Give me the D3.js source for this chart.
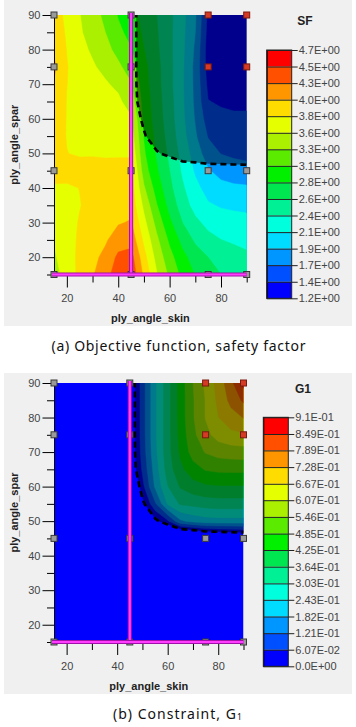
<!DOCTYPE html>
<html><head><meta charset="utf-8">
<script src="https://cdn.jsdelivr.net/npm/d3@7"></script>
<style>
body{margin:0;background:#fff;}
svg{display:block;font-family:"Liberation Sans",Arial,sans-serif;}
</style>
</head><body>
<svg id="c" width="356" height="727"></svg>
<script>
// ---------- data ----------
const xValues = [15,20,25,30,35,40,45,50,55,60,65,70,75,80,85,90];
const yValues = [90,85,80,75,70,65,60,55,50,45,40,35,30,25,20,15];

// Safety factor, rows from y=90 (top) to y=15 (bottom)
const sfGrid = [
 [3.86,3.72,3.54,3.40,3.24,3.05,2.93,2.75,2.60,2.42,2.20,1.93,1.38,1.25,1.22,1.22],
 [3.90,3.74,3.56,3.44,3.30,3.12,2.99,2.79,2.62,2.42,2.19,1.90,1.35,1.25,1.23,1.24],
 [3.96,3.76,3.60,3.50,3.38,3.22,3.08,2.84,2.64,2.42,2.18,1.86,1.32,1.27,1.26,1.27],
 [4.05,3.78,3.64,3.56,3.47,3.35,3.18,2.90,2.67,2.43,2.17,1.83,1.33,1.30,1.30,1.32],
 [3.98,3.77,3.68,3.62,3.56,3.48,3.32,2.93,2.68,2.43,2.16,1.84,1.38,1.36,1.35,1.35],
 [3.92,3.76,3.70,3.67,3.62,3.58,3.42,2.97,2.70,2.45,2.17,1.85,1.44,1.41,1.40,1.40],
 [3.88,3.76,3.72,3.70,3.67,3.65,3.56,3.00,2.72,2.47,2.18,1.88,1.55,1.48,1.46,1.46],
 [3.85,3.76,3.73,3.72,3.70,3.70,3.65,3.05,2.76,2.50,2.22,1.93,1.65,1.56,1.54,1.53],
 [3.84,3.77,3.75,3.75,3.74,3.74,3.74,3.10,2.80,2.55,2.28,2.02,1.78,1.66,1.62,1.60],
 [3.85,3.84,3.83,3.84,3.84,3.85,3.85,3.18,2.86,2.60,2.33,2.10,1.92,1.82,1.78,1.75],
 [3.74,3.74,3.77,3.82,3.85,3.90,3.88,3.33,2.96,2.66,2.40,2.20,2.04,1.97,1.94,1.93],
 [3.66,3.70,3.76,3.82,3.90,3.96,3.92,3.48,3.08,2.75,2.48,2.28,2.16,2.11,2.09,2.08],
 [3.60,3.70,3.78,3.84,3.92,3.98,4.02,3.60,3.22,2.88,2.60,2.42,2.30,2.25,2.22,2.20],
 [3.55,3.68,3.80,3.88,3.97,4.12,4.15,3.72,3.35,3.02,2.76,2.56,2.44,2.37,2.34,2.32],
 [3.50,3.66,3.82,3.94,4.06,4.28,4.32,3.85,3.45,3.15,2.90,2.72,2.60,2.50,2.44,2.40],
 [3.45,3.62,3.83,3.98,4.13,4.38,4.42,3.95,3.55,3.25,3.00,2.82,2.70,2.60,2.52,2.47]
];

// Constraint G1 (<= 0 feasible), rows from y=90 to y=15
const g1Grid = [
 [-0.3,-0.3,-0.3,-0.3,-0.3,-0.3,-0.06,0.09,0.23,0.34,0.45,0.545,0.62,0.69,0.77,0.87],
 [-0.3,-0.3,-0.3,-0.3,-0.3,-0.3,-0.06,0.09,0.23,0.34,0.45,0.54,0.61,0.68,0.745,0.80],
 [-0.3,-0.3,-0.3,-0.3,-0.3,-0.3,-0.06,0.09,0.23,0.34,0.45,0.54,0.61,0.665,0.705,0.73],
 [-0.3,-0.3,-0.3,-0.3,-0.3,-0.3,-0.06,0.09,0.23,0.34,0.445,0.53,0.59,0.63,0.65,0.66],
 [-0.3,-0.3,-0.3,-0.3,-0.3,-0.3,-0.06,0.085,0.225,0.34,0.435,0.51,0.55,0.57,0.577,0.58],
 [-0.3,-0.3,-0.3,-0.3,-0.3,-0.3,-0.065,0.07,0.21,0.33,0.41,0.46,0.49,0.498,0.5,0.5],
 [-0.3,-0.3,-0.3,-0.3,-0.3,-0.3,-0.127,0.04,0.19,0.30,0.37,0.40,0.415,0.42,0.42,0.42],
 [-0.3,-0.3,-0.3,-0.3,-0.3,-0.3,-0.15,-0.02,0.11,0.25,0.31,0.32,0.33,0.335,0.335,0.335],
 [-0.3,-0.3,-0.3,-0.3,-0.3,-0.3,-0.2,-0.12,-0.02,0.05,0.17,0.2,0.215,0.22,0.22,0.22],
 [-0.3,-0.3,-0.3,-0.3,-0.3,-0.3,-0.3,-0.25,-0.22,-0.2,-0.2,-0.185,-0.143,-0.135,-0.124,-0.113],
 [-0.35,-0.35,-0.35,-0.35,-0.35,-0.35,-0.35,-0.35,-0.35,-0.35,-0.35,-0.35,-0.35,-0.35,-0.35,-0.35],
 [-0.35,-0.35,-0.35,-0.35,-0.35,-0.35,-0.35,-0.35,-0.35,-0.35,-0.35,-0.35,-0.35,-0.35,-0.35,-0.35],
 [-0.35,-0.35,-0.35,-0.35,-0.35,-0.35,-0.35,-0.35,-0.35,-0.35,-0.35,-0.35,-0.35,-0.35,-0.35,-0.35],
 [-0.35,-0.35,-0.35,-0.35,-0.35,-0.35,-0.35,-0.35,-0.35,-0.35,-0.35,-0.35,-0.35,-0.35,-0.35,-0.35],
 [-0.35,-0.35,-0.35,-0.35,-0.35,-0.35,-0.35,-0.35,-0.35,-0.35,-0.35,-0.35,-0.35,-0.35,-0.35,-0.35],
 [-0.35,-0.35,-0.35,-0.35,-0.35,-0.35,-0.35,-0.35,-0.35,-0.35,-0.35,-0.35,-0.35,-0.35,-0.35,-0.35]
];

const sfLevels = [1.2,1.433,1.667,1.9,2.133,2.367,2.6,2.833,3.067,3.3,3.533,3.767,4.0,4.233,4.467,4.7];
const sfLabels = ["1.2E+00","1.4E+00","1.7E+00","1.9E+00","2.1E+00","2.4E+00","2.6E+00","2.8E+00","3.1E+00","3.3E+00","3.6E+00","3.8E+00","4.0E+00","4.3E+00","4.5E+00","4.7E+00"];
const g1Levels = [0,0.0607,0.121,0.182,0.243,0.303,0.364,0.425,0.485,0.546,0.607,0.667,0.728,0.789,0.849,0.91];
const g1Labels = ["0.0E+00","6.07E-02","1.21E-01","1.82E-01","2.43E-01","3.03E-01","3.64E-01","4.25E-01","4.85E-01","5.46E-01","6.07E-01","6.67E-01","7.28E-01","7.89E-01","8.49E-01","9.1E-01"];

const bandColors = ["#0000ff","#0050ff","#0096ff","#00dcff","#00ffdc","#00f096","#00e650","#00f000",
                    "#5aeb00","#aaf000","#e6ff00","#ffdc00","#ff9600","#ff5000","#ff0000"];

// sample points: x, y, infeasible flag
const sampleX = [15,45,75,90,15,45,75,90,15,45,75,90,15,45,75,90];
const sampleY = [90,90,90,90,75,75,75,75,45,45,45,45,15,15,15,15];
const sampleBad = [0,0,1,1,0,0,1,1,0,0,0,0,0,0,0,0];

const xMajorTicks = [20,40,60,80];
const xMinorTicks = [30,50,70,90];
const yMajorTicks = [20,30,40,50,60,70,80,90];
const yMinorTicks = [15,25,35,45,55,65,75,85];
const boundX = 45, boundY = 15;

// ---------- drawing ----------
const svg = d3.select('#c');

function styleAxis(sel, size, color) {
  sel.attr('font-family','"Liberation Sans",Arial,sans-serif').attr('font-size',size);
  sel.selectAll('text').attr('fill',color);
  sel.selectAll('line').attr('stroke','#000');
  sel.select('.domain').attr('stroke','#000');
}

function drawChart(cfg) {
  const g = svg.append('g');
  g.append('rect').attr('x',cfg.panel[0]).attr('y',cfg.panel[1]).attr('width',cfg.panel[2]).attr('height',cfg.panel[3]).attr('fill','#f0f0f0');

  const xs = d3.scaleLinear().domain([15,90]).range([cfg.left,cfg.right]);
  const ys = d3.scaleLinear().domain([15,90]).range([cfg.bottom,cfg.top]);
  const n = xValues.length, m = yValues.length;
  const dxv = xValues[1]-xValues[0], dyv = yValues[1]-yValues[0];
  const proj = d3.geoTransform({point(px,py){
    this.stream.point(xs(xValues[0]+dxv*(px-0.5)), ys(yValues[0]+dyv*(py-0.5)));
  }});
  const path = d3.geoPath(proj);

  const clipId = 'clip'+cfg.id;
  g.append('clipPath').attr('id',clipId).append('rect')
    .attr('x',cfg.left).attr('y',cfg.top).attr('width',cfg.right-cfg.left).attr('height',cfg.bottom-cfg.top);
  const plot = g.append('g').attr('clip-path',`url(#${clipId})`);
  plot.append('rect').attr('x',cfg.left).attr('y',cfg.top).attr('width',cfg.right-cfg.left).attr('height',cfg.bottom-cfg.top).attr('fill',bandColors[0]);

  const contours = d3.contours().size([n,m]).thresholds(cfg.levels.slice(1,cfg.levels.length-1))(cfg.grid.flat());
  plot.selectAll('path.band').data(contours).join('path').attr('class','band')
    .attr('d',path).attr('fill',(d,i)=>bandColors[i+1]).attr('stroke',(d,i)=>bandColors[i+1]).attr('stroke-width',0.5);

  const infeasible = d3.contours().size([n,m]).thresholds([1e-6])(g1Grid.flat())[0];
  plot.append('path').attr('d',path(infeasible)).attr('fill','#000').attr('fill-opacity',0.45);
  plot.append('path').attr('d',path(infeasible)).attr('fill','none').attr('stroke','#000')
    .attr('stroke-width',2.6).attr('stroke-dasharray','6,4');

  // y axis
  const ya = g.append('g').attr('transform',`translate(${cfg.left},0)`)
    .call(d3.axisLeft(ys).tickValues(yMajorTicks).tickSize(11.5).tickSizeOuter(0).tickPadding(2));
  styleAxis(ya, 11, '#444');
  const yb = g.append('g').attr('transform',`translate(${cfg.left},0)`)
    .call(d3.axisLeft(ys).tickValues(yMinorTicks).tickSize(7).tickSizeOuter(0).tickFormat(''));
  styleAxis(yb, 11, '#444');
  // x axis
  const xa = g.append('g').attr('transform',`translate(0,${cfg.bottom})`)
    .call(d3.axisBottom(xs).tickValues(xMajorTicks).tickSize(13).tickSizeOuter(0).tickPadding(7));
  styleAxis(xa, 11, '#444');
  xa.select('.domain').remove();
  const xb = g.append('g').attr('transform',`translate(0,${cfg.bottom})`)
    .call(d3.axisBottom(xs).tickValues(xMinorTicks).tickSize(8).tickSizeOuter(0).tickFormat(''));
  styleAxis(xb, 11, '#444');
  xb.select('.domain').remove();

  // sample markers
  g.selectAll('rect.mk').data(sampleX).join('rect').attr('class','mk')
    .attr('x',(d)=>xs(d)-3).attr('y',(d,i)=>ys(sampleY[i])-3).attr('width',6).attr('height',6)
    .attr('fill',(d,i)=>sampleBad[i]?'#d43a24':'#9a9a9a')
    .attr('stroke',(d,i)=>sampleBad[i]?'#7a1a10':'#3a3a3a').attr('stroke-width',1);

  // bound lines (magenta)
  const bl = [[xs(boundX),ys(15)-1,xs(boundX),ys(90)-2],[xs(15)-2,ys(boundY),xs(90),ys(boundY)]];
  bl.forEach(s=>{
    g.append('line').attr('x1',s[0]).attr('y1',s[1]).attr('x2',s[2]).attr('y2',s[3]).attr('stroke','#a010a8').attr('stroke-width',4.2);
    g.append('line').attr('x1',s[0]).attr('y1',s[1]).attr('x2',s[2]).attr('y2',s[3]).attr('stroke','#ff3cff').attr('stroke-width',2.2);
  });

  // axis titles
  g.append('text').attr('x',(cfg.left+cfg.right)/2).attr('y',cfg.xTitleY).attr('text-anchor','middle')
    .attr('font-size',11).attr('font-weight','bold').attr('fill','#222').text('ply_angle_skin');
  g.append('text').attr('transform',`translate(18,${(cfg.top+cfg.bottom)/2}) rotate(-90)`).attr('text-anchor','middle')
    .attr('font-size',11).attr('font-weight','bold').attr('fill','#222').text('ply_angle_spar');

  // legend
  const lb = d3.scaleLinear().domain([cfg.levels[0],cfg.levels[cfg.levels.length-1]]).range([cfg.barBottom,cfg.barTop]);
  g.selectAll('rect.lg').data(bandColors).join('rect').attr('class','lg')
    .attr('x',cfg.barX).attr('width',cfg.barW)
    .attr('y',(d,i)=>lb(cfg.levels[i+1])).attr('height',(d,i)=>lb(cfg.levels[i])-lb(cfg.levels[i+1]))
    .attr('fill',d=>d);
  const la = g.append('g').attr('transform',`translate(${cfg.barX},0)`)
    .call(d3.axisRight(lb).tickValues(cfg.levels).tickSize(cfg.barW+6).tickSizeOuter(0).tickPadding(1)
      .tickFormat((d,i)=>cfg.labels[i]));
  styleAxis(la, 11, '#444');
  la.selectAll('line').attr('stroke','#222');
  g.append('rect').attr('x',cfg.barX).attr('y',cfg.barTop).attr('width',cfg.barW).attr('height',cfg.barBottom-cfg.barTop)
    .attr('fill','none').attr('stroke','#222').attr('stroke-width',1);
  g.append('text').attr('x',cfg.legTitle[0]).attr('y',cfg.legTitle[1]).attr('text-anchor','middle')
    .attr('font-size',12).attr('font-weight','bold').attr('fill','#222').text(cfg.title);
}

drawChart({id:'a', grid:sfGrid, levels:sfLevels, labels:sfLabels, title:'SF',
  panel:[4,0,348,326], left:54, right:246.7, top:15, bottom:274.5, xTitleY:322,
  barX:266.7, barW:25, barTop:50, barBottom:298.3, legTitle:[305,25]});
drawChart({id:'b', grid:g1Grid, levels:g1Levels, labels:g1Labels, title:'G1',
  panel:[4,373,348,321], left:54, right:243.5, top:383, bottom:642, xTitleY:690,
  barX:263.3, barW:25, barTop:417.3, barBottom:666.3, legTitle:[303,393]});

// captions
svg.append('text').attr('x',178.5).attr('y',351).attr('text-anchor','middle')
  .attr('font-family','"Noto Sans",sans-serif').attr('font-size',14).attr('fill','#111')
  .attr('textLength',254).attr('lengthAdjust','spacing').text('(a) Objective function, safety factor');
const cap = svg.append('text').attr('x',113).attr('y',719)
  .attr('font-family','"Noto Sans",sans-serif').attr('font-size',14).attr('fill','#111');
cap.append('tspan').attr('textLength',123).attr('lengthAdjust','spacing').text('(b) Constraint, G');
cap.append('tspan').attr('font-size',8.5).attr('dy',1).text('1');
</script>
</body></html>
